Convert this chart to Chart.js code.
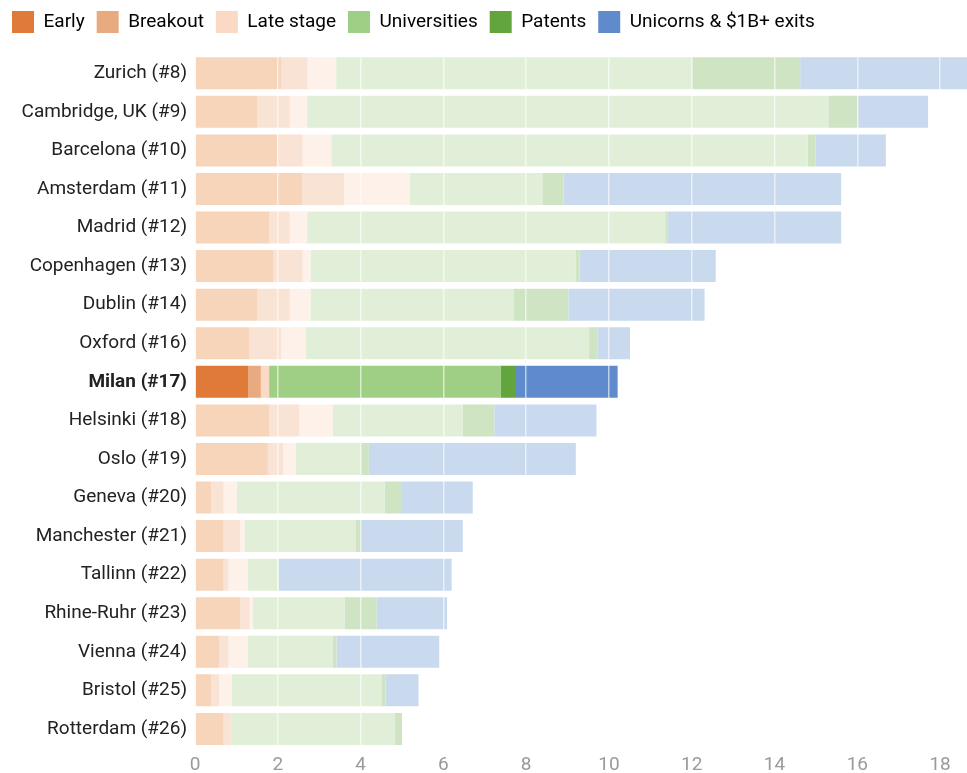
<!DOCTYPE html>
<html>
<head>
<meta charset="utf-8">
<script src="https://cdn.jsdelivr.net/npm/chart.js@4/dist/chart.umd.min.js"></script>
<style>
  html, body { margin: 0; padding: 0; background: #fff; }
  #wrap { width: 967px; height: 773px; position: relative; }
</style>
</head>
<body>
<div id="wrap"><canvas id="c"></canvas></div>
<script>
// Hubs ranked by startup ecosystem score, with the contribution of each component
const cities = [
  'Zurich (#8)', 'Cambridge, UK (#9)', 'Barcelona (#10)', 'Amsterdam (#11)', 'Madrid (#12)',
  'Copenhagen (#13)', 'Dublin (#14)', 'Oxford (#16)', 'Milan (#17)', 'Helsinki (#18)',
  'Oslo (#19)', 'Geneva (#20)', 'Manchester (#21)', 'Tallinn (#22)', 'Rhine-Ruhr (#23)',
  'Vienna (#24)', 'Bristol (#25)', 'Rotterdam (#26)'
];
const highlight = 'Milan (#17)';

const early        = [2.09, 1.51, 1.98, 2.59, 1.79, 1.90, 1.51, 1.32, 1.28, 1.79, 1.76, 0.39, 0.69, 0.69, 1.09, 0.58, 0.39, 0.69];
const breakout     = [0.63, 0.78, 0.62, 1.01, 0.50, 0.70, 0.78, 0.77, 0.31, 0.73, 0.37, 0.30, 0.40, 0.12, 0.23, 0.23, 0.19, 0.20];
const lateStage    = [0.69, 0.42, 0.69, 1.59, 0.42, 0.19, 0.50, 0.59, 0.20, 0.81, 0.31, 0.32, 0.11, 0.47, 0.07, 0.47, 0.31, 0.00];
const universities = [8.60, 12.59, 11.51, 3.20, 8.65, 6.41, 4.90, 6.84, 5.59, 3.14, 1.57, 3.57, 2.69, 0.74, 2.23, 2.04, 3.61, 3.93];
const patents      = [2.61, 0.70, 0.19, 0.51, 0.06, 0.09, 1.33, 0.20, 0.35, 0.76, 0.19, 0.42, 0.12, 0.00, 0.77, 0.10, 0.10, 0.18];
const unicorns     = [4.03, 1.71, 1.70, 6.71, 4.19, 3.29, 3.29, 0.79, 2.48, 2.47, 5.00, 1.71, 2.46, 4.18, 1.70, 2.48, 0.80, 0.00];

const xTicks = [0, 2, 4, 6, 8, 10, 12, 14, 16, 18];

// [label, values, strong colour, muted colour]
const series = [
  ['Early', early, '#e07a38', '#f6d5bb'],
  ['Breakout', breakout, '#e8aa7e', '#f9e3d5'],
  ['Late stage', lateStage, '#fadac4', '#fdf1ea'],
  ['Universities', universities, '#9fcf84', '#e1efd9'],
  ['Patents', patents, '#62a53c', '#cfe4c3'],
  ['Unicorns & $1B+ exits', unicorns, '#5f8bcc', '#c9daef']
];

const datasets = series.map(([label, values, strong, muted]) => ({
  label,
  data: values,
  backgroundColor: cities.map(c => c === highlight ? strong : muted),
  borderWidth: 0,
  categoryPercentage: 1,
  barPercentage: 0.83,
  legendColor: strong
}));

// extra space between the legend row and the bars
const legendGap = {
  id: 'legendGap',
  beforeInit(chart) {
    const fit = chart.legend.fit;
    chart.legend.fit = function () {
      fit.call(this);
      this.height += 11;
    };
  }
};

Chart.defaults.font.family = 'Roboto, "Noto Sans", sans-serif';

new Chart(document.getElementById('c'), {
  type: 'bar',
  data: { labels: cities, datasets },
  plugins: [legendGap],
  options: {
    indexAxis: 'y',
    responsive: true,
    maintainAspectRatio: false,
    animation: false,
    layout: { padding: { left: 0, right: 0, top: -1, bottom: -10 } },
    plugins: {
      tooltip: { enabled: false },
      legend: {
        position: 'top',
        align: 'start',
        labels: {
          boxWidth: 22,
          boxHeight: 22,
          padding: 12,
          color: '#333',
          font: { size: 19 },
          generateLabels(chart) {
            return chart.data.datasets.map((ds, i) => ({
              text: ds.label,
              fillStyle: ds.legendColor,
              strokeStyle: ds.legendColor,
              lineWidth: 0,
              hidden: false,
              datasetIndex: i
            }));
          }
        }
      }
    },
    scales: {
      x: {
        stacked: true,
        min: 0,
        max: 18.65,
        afterBuildTicks(scale) {
          scale.ticks = xTicks.map(v => ({ value: v }));
        },
        ticks: {
          color: '#9a9a9a',
          padding: 6,
          font: { family: '"Liberation Sans Narrow", Roboto, sans-serif', size: 19 }
        },
        grid: {
          z: 1,
          color: 'rgba(255,255,255,0.6)',
          lineWidth: 1.5,
          drawTicks: false
        },
        border: { display: false }
      },
      y: {
        stacked: true,
        afterFit(scale) { scale.width = 195; },
        ticks: {
          color: '#222',
          padding: 8,
          font: (ctx) => ({
            size: 19,
            weight: cities[ctx.index] === highlight ? 'bold' : 'normal'
          })
        },
        grid: { display: false, drawTicks: false },
        border: { display: false }
      }
    }
  }
});
</script>
</body>
</html>
